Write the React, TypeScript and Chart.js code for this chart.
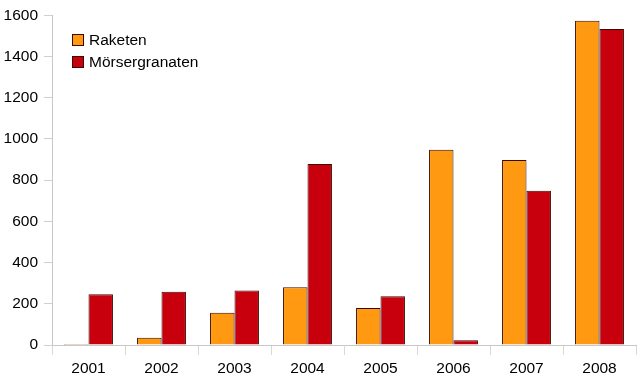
import React, { useEffect, useRef } from "react";
import { Chart, registerables } from "chart.js";

Chart.register(...registerables);

const years = ["2001", "2002", "2003", "2004", "2005", "2006", "2007", "2008"];
const raketen = [4, 35, 156, 280, 179, 947, 898, 1574];
const moerser = [246, 258, 264, 878, 237, 23, 749, 1533];
const seriesNames = ["Raketen", "Mörsergranaten"];
const seriesColors = ["#FF9912", "#C8000E"];
const yTicks = [0, 200, 400, 600, 800, 1000, 1200, 1400, 1600];

const FONT = "'Liberation Sans', Arial, sans-serif";

const legendPlugin = {
  id: "insideLegend",
  afterDraw(chart: any) {
    const ctx = chart.ctx;
    ctx.save();
    ctx.font = `15.5px ${FONT}`;
    ctx.textBaseline = "middle";
    chart.data.datasets.forEach((ds: any, i: number) => {
      const x = 72;
      const y = 40 + i * 22;
      ctx.fillStyle = ds.backgroundColor;
      ctx.fillRect(x, y - 6, 12, 12);
      ctx.strokeStyle = "#3a0a00";
      ctx.lineWidth = 1;
      ctx.strokeRect(x + 0.5, y - 5.5, 11, 11);
      ctx.fillStyle = "#000";
      ctx.fillText(ds.label, x + 17, y + 1);
    });
    ctx.restore();
  },
};

export default function App() {
  const ref = useRef<HTMLCanvasElement>(null);
  useEffect(() => {
    if (!ref.current) return;
    const chart = new Chart(ref.current, {
      type: "bar",
      data: {
        labels: years,
        datasets: [raketen, moerser].map((d, i) => ({
          label: seriesNames[i],
          data: d,
          backgroundColor: seriesColors[i],
          borderColor: "#3a0a00",
          borderWidth: 1,
          borderSkipped: "bottom",
          categoryPercentage: 0.67,
          barPercentage: 1,
          minBarLength: 1,
        })),
      },
      options: {
        responsive: false,
        animation: false,
        layout: { padding: { top: 6, right: 3, left: 0, bottom: 0 } },
        plugins: { legend: { display: false }, tooltip: { enabled: false } },
        scales: {
          x: {
            grid: {
              display: true,
              drawOnChartArea: false,
              drawTicks: true,
              tickLength: 10,
              color: "#d8d8d8",
              offset: true,
            },
            border: { color: "#c8c8c8" },
            ticks: {
              font: { family: FONT, size: 15.5 },
              color: "#000",
              padding: 4,
            },
            afterFit: (s: any) => {
              s.height = 38;
            },
          },
          y: {
            min: 0,
            max: 1600,
            afterBuildTicks: (s: any) => {
              s.ticks = yTicks.map((v) => ({ value: v }));
            },
            grid: {
              display: true,
              drawOnChartArea: false,
              drawTicks: true,
              tickLength: 8,
              color: "#d0d0d0",
            },
            border: { color: "#c8c8c8" },
            ticks: {
              font: { family: FONT, size: 15.5 },
              color: "#000",
              padding: 6,
              callback: (v: any) => String(v),
            },
            afterFit: (s: any) => {
              s.width = 52;
            },
          },
        },
      },
      plugins: [legendPlugin],
    });
    return () => chart.destroy();
  }, []);
  return (
    <div style={{ position: "fixed", left: 0, top: 0, width: 639, height: 383, background: "#fff" }}>
      <canvas ref={ref} width={639} height={383} />
    </div>
  );
}
